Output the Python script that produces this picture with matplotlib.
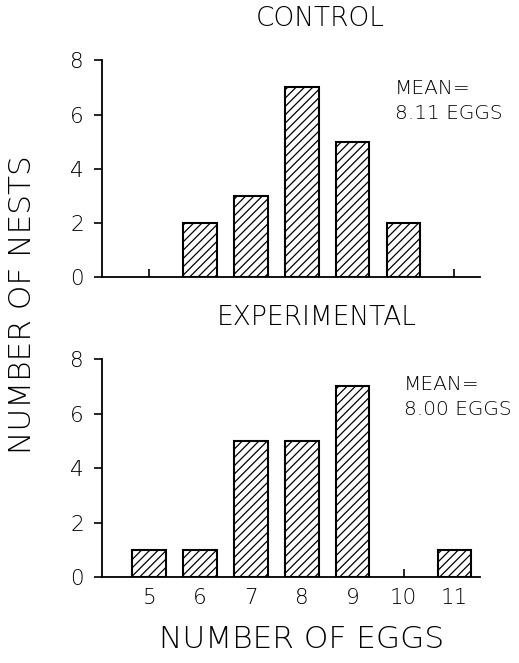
import numpy as np
import matplotlib.pyplot as plt

eggs = [5, 6, 7, 8, 9, 10, 11]
control = [0, 2, 3, 7, 5, 2, 0]
experimental = [1, 1, 5, 5, 7, 0, 1]
control_mean = 'MEAN=\n8.11 EGGS'
exp_mean = 'MEAN=\n8.00 EGGS'

plt.rcParams['font.family'] = 'DejaVu Sans'
plt.rcParams['font.weight'] = 'light'
plt.rcParams['hatch.linewidth'] = 0.9

fig = plt.figure(figsize=(5.19, 6.63), dpi=100)
ax1 = fig.add_axes([0.1965, 0.582, 0.728, 0.327])
ax2 = fig.add_axes([0.1965, 0.1297, 0.728, 0.3288])


def draw(ax, counts, mean_txt, tx, ty, show_x):
    for x, c in zip(eggs, counts):
        if c > 0:
            ax.bar(x, c, width=0.66, color='white', edgecolor='black',
                   hatch='////', linewidth=1.5, zorder=2)
    ax.set_xlim(4.07, 11.5)
    ax.set_ylim(0, 8)
    ax.set_yticks([0, 2, 4, 6, 8])
    ax.set_xticks(eggs)
    ax.spines['top'].set_visible(False)
    ax.spines['right'].set_visible(False)
    ax.spines['left'].set_linewidth(1.3)
    ax.spines['bottom'].set_linewidth(1.3)
    ax.tick_params(axis='y', direction='out', length=6, width=1.2, labelsize=15.5, pad=7)
    ax.tick_params(axis='x', direction='in', length=6, width=1.2, labelsize=15.5, pad=8)
    if not show_x:
        ax.tick_params(axis='x', labelbottom=False)
    ax.text(tx, ty, mean_txt, fontsize=14.5, va='top', ha='left', linespacing=1.35)


draw(ax1, control, control_mean, 9.83, 7.3, False)
draw(ax2, experimental, exp_mean, 10.0, 7.4, True)

fig.text(320 / 519, 1 - 19 / 663, 'CONTROL', ha='center', va='center', fontsize=19)
fig.text(317 / 519, 1 - 317 / 663, 'EXPERIMENTAL', ha='center', va='center', fontsize=19)
fig.text(23 / 519, 1 - 305 / 663, 'NUMBER OF NESTS', ha='center', va='center',
         rotation=90, fontsize=22.5)
fig.text(302 / 519, 1 - 640 / 663, 'NUMBER OF EGGS', ha='center', va='center', fontsize=22.5)

plt.savefig('out.png', dpi=100)
